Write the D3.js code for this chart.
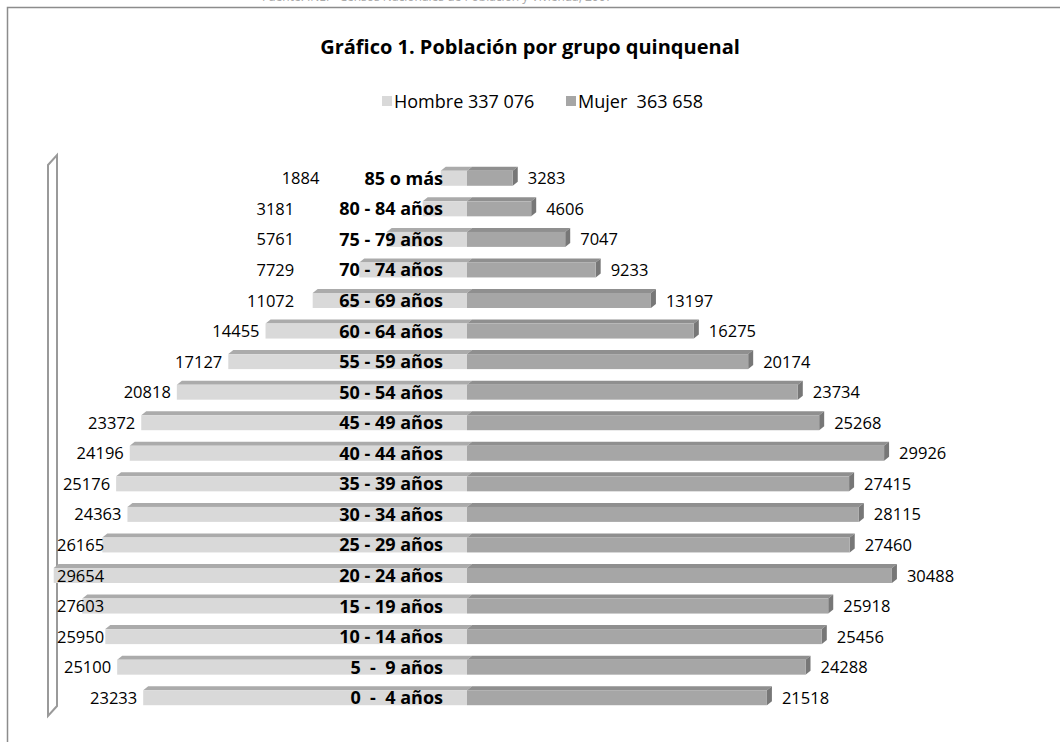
<!DOCTYPE html>
<html>
<head>
<meta charset="utf-8">
<script src="https://cdn.jsdelivr.net/npm/d3@7"></script>
<style>
  body { margin: 0; background: #fff; }
  svg text { font-family: "Open Sans", Lato, sans-serif; }
</style>
</head>
<body>
<script>
const groups = ["0  -  4 años", "5  -  9 años", "10 - 14 años", "15 - 19 años", "20 - 24 años",
  "25 - 29 años", "30 - 34 años", "35 - 39 años", "40 - 44 años", "45 - 49 años", "50 - 54 años",
  "55 - 59 años", "60 - 64 años", "65 - 69 años", "70 - 74 años", "75 - 79 años", "80 - 84 años", "85 o más"];
const hombres = [23233, 25100, 25950, 27603, 29654, 26165, 24363, 25176, 24196, 23372, 20818,
  17127, 14455, 11072, 7729, 5761, 3181, 1884];
const mujeres = [21518, 24288, 25456, 25918, 30488, 27460, 28115, 27415, 29926, 25268, 23734,
  20174, 16275, 13197, 9233, 7047, 4606, 3283];
const legendLabels = ["Hombre 337 076", "Mujer  363 658"];
const title = "Gráfico 1. Población por grupo quinquenal";

window.onload = function () {
  let width = 1060;
  let height = 742;
  let cx = 467;
  let dx = 5, dy = 4, face = 15;
  let colors = { mFront: "#d9d9d9", mTop: "#ababab", fFront: "#a6a6a6", fTop: "#8f8f8f", fSide: "#777777" };

  let svg = d3.select("body").append("svg").attr("width", width).attr("height", height);

  // cut-off line from the page above
  svg.append("text").attr("x", 262).attr("y", 1).attr("font-size", 12).attr("fill", "#aaa")
    .text("Fuente: INEI - Censos Nacionales de Población y Vivienda, 2007");

  // chart frame
  svg.append("rect").attr("x", 7.5).attr("y", 7.5).attr("width", 1100).attr("height", 760)
    .attr("fill", "#fff").attr("stroke", "#8c8c8c").attr("stroke-width", 1.5);

  svg.append("text").attr("x", 530).attr("y", 54).attr("text-anchor", "middle")
    .attr("font-size", 20).attr("font-weight", "bold").text(title);

  // legend
  let legend = svg.append("g").selectAll("g").data(legendLabels).join("g")
    .attr("transform", (d, i) => `translate(${i === 0 ? 382 : 566}, 101)`);
  legend.append("rect").attr("x", 0).attr("y", -5).attr("width", 10).attr("height", 10)
    .attr("fill", (d, i) => i === 0 ? colors.mFront : colors.fFront);
  legend.append("text").attr("x", 12).attr("y", 6.5).attr("font-size", 18)
    .style("white-space", "pre").text(d => d);

  let xScale = d3.scaleLinear().domain([0, 32000]).range([0, 446]);
  let yScale = d3.scalePoint().domain(groups.slice().reverse()).range([163, 713]).padding(0.5);

  // 3D wall of the category axis
  svg.append("path")
    .attr("d", "M48,165 L57,155 L57,706 L48,716 Z")
    .attr("fill", "none").attr("stroke", "#9a9a9a").attr("stroke-width", 2);

  let rows = groups.map((g, i) => ({ g: g, h: hombres[i], m: mujeres[i] }));
  let bars = svg.append("g").selectAll("g").data(rows).join("g")
    .attr("transform", d => `translate(0, ${yScale(d.g)})`);

  // hombre (left)
  bars.append("path").attr("fill", colors.mTop)
    .attr("d", d => {
      let x0 = cx - xScale(d.h);
      let t = -face / 2;
      return `M${x0},${t} L${x0 + dx},${t - dy} L${cx + dx},${t - dy} L${cx},${t} Z`;
    });
  bars.append("rect").attr("fill", colors.mFront)
    .attr("x", d => cx - xScale(d.h)).attr("y", -face / 2)
    .attr("width", d => xScale(d.h)).attr("height", face);

  // mujer (right)
  bars.append("path").attr("fill", colors.fTop)
    .attr("d", d => {
      let x1 = cx + xScale(d.m);
      let t = -face / 2;
      return `M${cx},${t} L${cx + dx},${t - dy} L${x1 + dx},${t - dy} L${x1},${t} Z`;
    });
  bars.append("path").attr("fill", colors.fSide)
    .attr("d", d => {
      let x1 = cx + xScale(d.m);
      let t = -face / 2;
      return `M${x1},${t} L${x1 + dx},${t - dy} L${x1 + dx},${face / 2 - dy} L${x1},${face / 2} Z`;
    });
  bars.append("rect").attr("fill", colors.fFront)
    .attr("x", cx).attr("y", -face / 2)
    .attr("width", d => xScale(d.m)).attr("height", face);

  // category labels
  let catLabels = bars.append("text").attr("x", cx - 24).attr("y", 6.5).attr("text-anchor", "end")
    .attr("font-size", 18).attr("font-weight", "bold")
    .style("white-space", "pre").text(d => d.g);

  // hombre values: left of bar, kept clear of the category label and the wall
  bars.append("text").attr("y", 6).attr("text-anchor", "end").attr("font-size", 16.5)
    .text(d => d.h)
    .each(function (d, i) {
      let w = this.getComputedTextLength();
      let catW = catLabels.nodes()[i].getComputedTextLength();
      let right = Math.min(cx - xScale(d.h) - 6, cx - 24 - catW - 45);
      right = Math.max(right, 57 + w);
      d3.select(this).attr("x", right);
    });

  bars.append("text").attr("x", d => cx + xScale(d.m) + 15).attr("y", 6)
    .attr("font-size", 16.5).text(d => d.m);
};
</script>
</body>
</html>
